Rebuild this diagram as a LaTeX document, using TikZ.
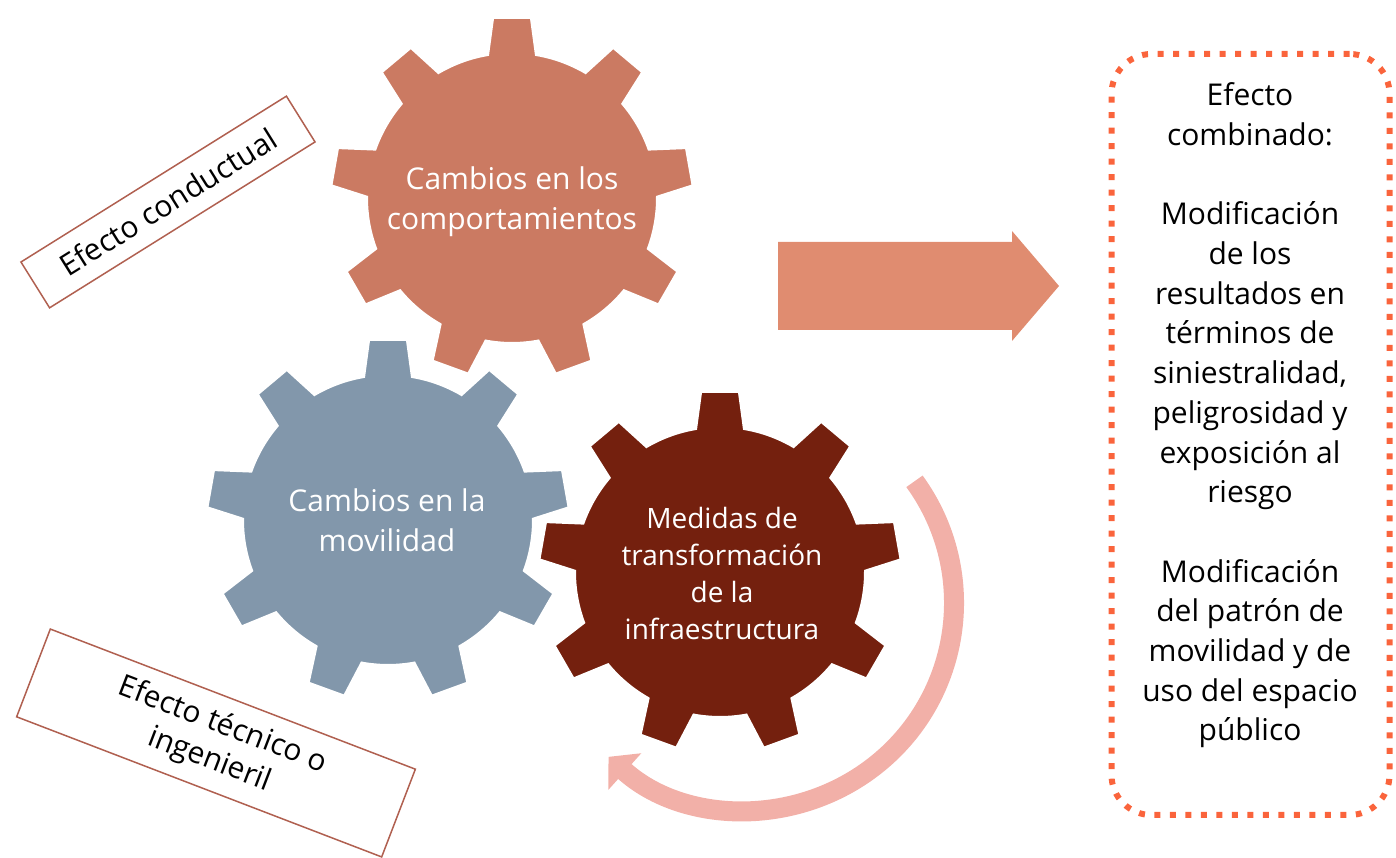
\documentclass[tikz,border=0pt]{standalone}
\usepackage{fontspec}
\setmainfont{Open Sans}
\usetikzlibrary{arrows.meta}
\definecolor{gearsalmon}{RGB}{203,122,98}
\definecolor{gearblue}{RGB}{130,151,171}
\definecolor{gearbrown}{RGB}{116,32,14}
\definecolor{arrowsalmon}{RGB}{224,140,112}
\definecolor{looppink}{RGB}{242,176,168}
\definecolor{labelred}{RGB}{176,96,80}
\definecolor{dotred}{RGB}{250,100,60}

\begin{document}
\begin{tikzpicture}[x=1pt, y=1pt,
    geartext/.style={text=white, align=center, font=\fontsize{30}{40}\selectfont},
    labelbox/.style={draw=labelred, line width=1.5pt, fill=white, align=center,
      font=\fontsize{30}{37}\selectfont, inner sep=0pt},
    combobox/.style={draw=dotred, line width=6pt, rounded corners=40pt,
      dash pattern=on 6pt off 9.5pt},
    combotext/.style={align=center, font=\fontsize{30}{39.7}\selectfont}]
      \useasboundingbox (0,0) rectangle (1396,858);

      % gears: 9 teeth each
      \foreach \cx/\cy/\col in {388/338/gearblue, 512/660/gearsalmon, 720/286/gearbrown}
        \filldraw[fill=\col, draw=white, line width=2pt, shift={(\cx,\cy)}] (80.5:145)
          \foreach \a in {90,130,...,410} {
            -- ({\a-6}:181) -- ({\a+6}:181) -- ({\a+9.5}:145)
            arc[start angle=\a+9.5, end angle=\a+30.5, radius=145]
          } -- cycle;

      \node[geartext] (comport) at (512,656) {Cambios en los\\comportamientos};
      \node[geartext] (movil) at (387,338) {Cambios en la\\movilidad};
      \node[geartext, font=\fontsize{28}{37}\selectfont] (medidas) at (722,284)
        {Medidas de\\transformación\\de la\\infraestructura};

      % turning arrow round the infrastructure gear
      \coordinate (loopc) at (747,255);
      \draw[looppink, line width=20pt, -{Triangle[width=48pt, length=22pt]}]
        ([shift={(36:207)}]loopc) arc[start angle=36, end angle=-132, radius=207];

      % big arrow to the result
      \fill[arrowsalmon] (778,616) -- (1012,616) -- (1012,627) -- (1059,572)
        -- (1012,517) -- (1012,528) -- (778,528) -- cycle;

      \node[combobox, minimum width=278pt, minimum height=761pt] (combo) at (1250.5,423.5) {};
      \node[combotext] (combotxt) at (1250,442.5)
        {Efecto\\combinado:\\[39.7pt]Modificación\\de los\\resultados en\\términos de\\siniestralidad,\\peligrosidad y\\exposición al\\riesgo\\[39.7pt]Modificación\\del patrón de\\movilidad y de\\uso del espacio\\público};

      \node[labelbox, rotate=32, minimum width=313pt, minimum height=54pt] (conductual)
        at (168,656) {Efecto conductual};
      \node[labelbox, rotate=-21, minimum width=391pt, minimum height=94pt] (tecnico)
        at (216,115) {Efecto técnico o\\ingenieril};
\end{tikzpicture}
\end{document}
